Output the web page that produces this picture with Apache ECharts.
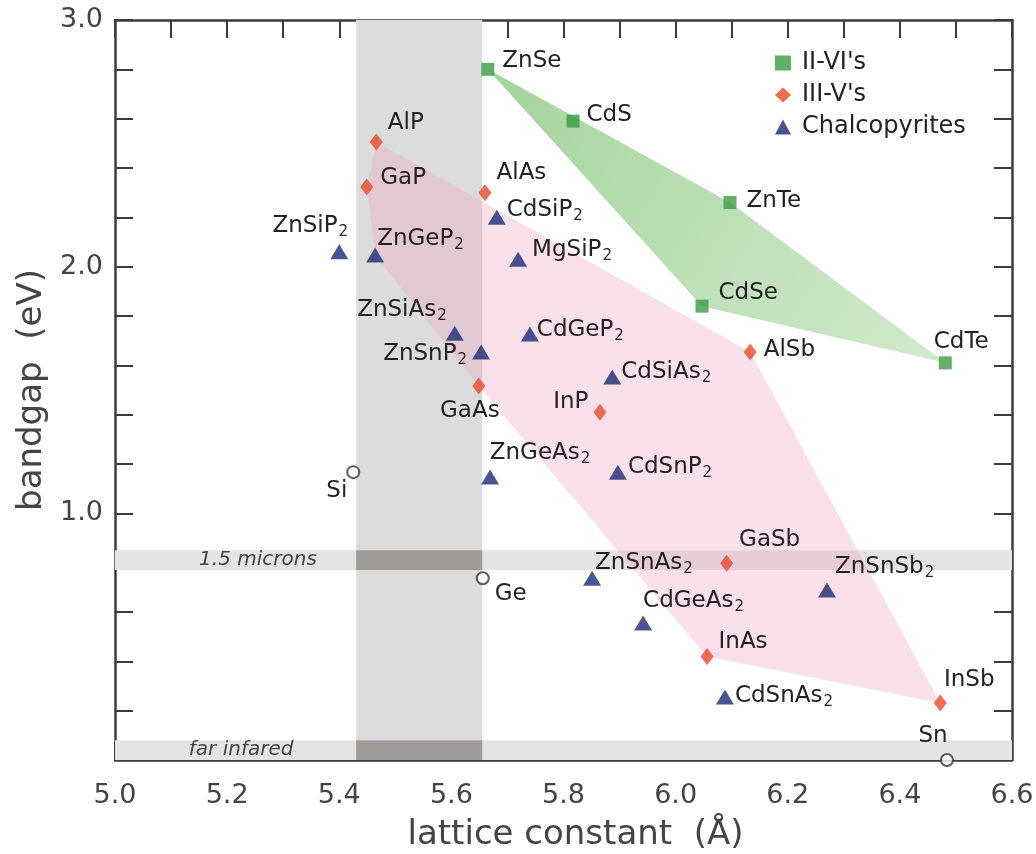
<!DOCTYPE html>
<html><head><meta charset="utf-8">
<script src="https://cdn.jsdelivr.net/npm/echarts@6/dist/echarts.min.js"></script>
<style>html,body{margin:0;padding:0;background:#fff}#c{width:1036px;height:854px}</style>
</head><body><div id="c"></div>
<script>
// ---------------- data ----------------
const iiviNames   = ['ZnSe','CdS','ZnTe','CdSe','CdTe'];
const iiviLattice = [5.665, 5.817, 6.097, 6.047, 6.481];
const iiviGap     = [2.80, 2.59, 2.26, 1.84, 1.61];

const iiivNames   = ['AlP','GaP','AlAs','GaAs','InP','AlSb','GaSb','InAs','InSb'];
const iiivLattice = [5.466, 5.449, 5.660, 5.649, 5.865, 6.133, 6.091, 6.056, 6.472];
const iiivGap     = [2.505, 2.323, 2.30, 1.516, 1.41, 1.654, 0.798, 0.42, 0.231];

const chalcoNames   = ['ZnSiP2','ZnGeP2','CdSiP2','MgSiP2','ZnSiAs2','CdGeP2','ZnSnP2','CdSiAs2','ZnGeAs2','CdSnP2','ZnSnAs2','CdGeAs2','ZnSnSb2','CdSnAs2'];
const chalcoLattice = [5.40, 5.464, 5.681, 5.719, 5.606, 5.740, 5.653, 5.887, 5.669, 5.897, 5.851, 5.942, 6.27, 6.088];
const chalcoGap     = [2.06, 2.047, 2.20, 2.03, 1.73, 1.727, 1.654, 1.553, 1.147, 1.167, 0.737, 0.555, 0.689, 0.255];

const elemNames   = ['Si','Ge','Sn'];
const elemLattice = [5.425, 5.656, 6.484];
const elemGap     = [1.167, 0.737, 0.0];

const seriesNames = ["II-VI's", "III-V's", 'Chalcopyrites'];
const xTickLabels = ['5.0','5.2','5.4','5.6','5.8','6.0','6.2','6.4','6.6'];
const yTickLabels = ['1.0','2.0','3.0'];
const xRange = [5.0, 6.6];
const yRange = [0, 3.0];

const visibleBand = [5.43, 5.655];   // lattice range (grey column)
const micronBand  = [0.77, 0.85];    // 1.5 microns band (eV)
const farIRBand   = [0.0, 0.08];     // far infrared band (eV)
const bandTexts   = ['1.5 microns', 'far infared'];
const bandTextX   = [5.255, 5.225];

const iiviRegion = ['ZnSe','ZnTe','CdTe','CdSe'];
const iiivRegion = ['AlP','AlSb','InSb','InAs','GaAs','ZnGeP2','GaP'];

// ---------------- styles ----------------
const FONT = 'DejaVu Sans';
const TXT = '#222';
const AX = '#3c3c3c';
const place = {
  ZnSe:['right',3,-8], CdS:['right',2,-6], ZnTe:['right',5,-2], CdSe:['right',5,-13], CdTe:['top',16,2],
  AlP:['right',0,-19], GaP:['right',2,-9], AlAs:['right',0,-20], GaAs:['bottom',-9,0], InP:['left',0,-10],
  AlSb:['right',2,-2], GaSb:['top',43,2], InAs:['right',0,-14], InSb:['top',29,2],
  ZnSiP2:['top',-29,0], ZnGeP2:['right',-12,-16], CdSiP2:['right',-4,-7], MgSiP2:['right',0,-9],
  ZnSiAs2:['left',6,-23], CdGeP2:['right',-7,-4], ZnSnP2:['left',0,2], CdSiAs2:['right',-5,-5],
  ZnGeAs2:['top',50,2], CdSnP2:['right',-4,-5], ZnSnAs2:['right',-11,-15], CdGeAs2:['right',-14,-22],
  ZnSnSb2:['right',-6,-23], CdSnAs2:['right',-4,-1],
  Si:['left',6,19], Ge:['right',0,16], Sn:['top',-14,0]
};

const lookup = {};
function reg(names, xs, ys){ names.forEach((n,i)=>{ lookup[n]=[xs[i],ys[i]]; }); }
reg(iiviNames, iiviLattice, iiviGap);
reg(iiivNames, iiivLattice, iiivGap);
reg(chalcoNames, chalcoLattice, chalcoGap);
reg(elemNames, elemLattice, elemGap);

function richName(n){
  const m = n.match(/^(.*?)(\d+)$/);
  return m ? '{n|'+m[1]+'}{s|'+m[2]+'}' : '{n|'+n+'}';
}
function pts(names, xs, ys){
  return names.map((n,i)=>{
    const p = place[n] || ['right',0,0];
    return {name:n, value:[xs[i], ys[i]], label:{position:p[0], offset:[p[1],p[2]]}};
  });
}
const labelBase = {
  show:true, distance:5, color:TXT, fontFamily:FONT, fontSize:23, opacity:1,
  formatter: p => richName(p.name),
  rich:{
    n:{fontSize:23, fontFamily:FONT, color:TXT},
    s:{fontSize:15, fontFamily:FONT, color:TXT, padding:[12,0,0,1]}
  }
};

// band rectangles
const bands = [], bandFill = [];
function addBand(x0,x1,y0,y1,fill){ bands.push([x0,x1,y0,y1]); bandFill.push(fill); }
addBand(visibleBand[0], visibleBand[1], yRange[0], yRange[1], '#dcdcdc');
addBand(xRange[0], xRange[1], micronBand[0], micronBand[1], '#e4e4e4');
addBand(xRange[0], xRange[1], farIRBand[0], farIRBand[1], '#e4e4e4');
addBand(visibleBand[0], visibleBand[1], micronBand[0], micronBand[1], '#9f9b97');
addBand(visibleBand[0], visibleBand[1], farIRBand[0], farIRBand[1], '#9f9b97');
const bandLabelData = [[bandTextX[0], (micronBand[0]+micronBand[1])/2], [bandTextX[1], (farIRBand[0]+farIRBand[1])/2]];

const regions = [iiivRegion, iiviRegion];
const regionFill = [
  'rgba(240,160,190,0.32)',
  new echarts.graphic.LinearGradient(0,0,1,1,[{offset:0,color:'rgba(140,200,130,0.80)'},{offset:1,color:'rgba(170,215,160,0.55)'}])
];

const chart = echarts.init(document.getElementById('c'));
const axisCommon = {
  type:'value', splitLine:{show:false},
  axisLine:{show:true, onZero:false, lineStyle:{color:AX, width:2.5}},
  axisTick:{show:true, inside:true, length:18, lineStyle:{color:AX, width:2}}
};
chart.setOption({
  animation:false,
  backgroundColor:'#fff',
  grid:{left:115, right:24, top:20, bottom:94, containLabel:false, outerBoundsMode:'none'},
  legend:{
    data: seriesNames, orient:'vertical', left:770, top:46,
    itemWidth:16, itemHeight:15, itemGap:8,
    textStyle:{fontSize:24, fontFamily:FONT, color:TXT, padding:[0,0,0,6]}
  },
  xAxis:[
    Object.assign({}, axisCommon, {
      position:'bottom', min:xRange[0], max:xRange[1], interval:0.1,
      axisLabel:{margin:22, fontSize:27, fontFamily:FONT, color:'#444',
        formatter: v => xTickLabels.includes(v.toFixed(1)) ? v.toFixed(1) : ''},
      name:'lattice constant  (Å)', nameLocation:'middle', nameGap:58,
      nameTextStyle:{fontSize:34, fontFamily:FONT, color:'#444', padding:[0,0,0,24]}
    }),
    Object.assign({}, axisCommon, {
      position:'top', min:xRange[0], max:xRange[1], interval:0.1, axisLabel:{show:false}
    })
  ],
  yAxis:[
    Object.assign({}, axisCommon, {
      position:'left', min:yRange[0], max:yRange[1], interval:0.2,
      axisLabel:{margin:12, fontSize:27, fontFamily:FONT, color:'#444',
        formatter: v => yTickLabels.includes(v.toFixed(1)) ? v.toFixed(1) : ''},
      name:'bandgap  (eV)', nameLocation:'middle', nameGap:56,
      nameTextStyle:{fontSize:34, fontFamily:FONT, color:'#444'}
    }),
    Object.assign({}, axisCommon, {
      position:'right', min:yRange[0], max:yRange[1], interval:0.2, axisLabel:{show:false}
    })
  ],
  series:[
    {
      type:'custom', name:'bands', z:1, silent:true,
      data: bands,
      renderItem:(params, api)=>{
        const a = api.coord([api.value(0), api.value(3)]);
        const b = api.coord([api.value(1), api.value(2)]);
        return {type:'rect', shape:{x:a[0], y:a[1], width:b[0]-a[0], height:b[1]-a[1]},
          style:{fill: bandFill[params.dataIndex]}};
      }
    },
    {
      type:'custom', name:'bandLabels', z:6, silent:true,
      data: bandLabelData,
      renderItem:(params, api)=>{
        const p = api.coord([api.value(0), api.value(1)]);
        return {type:'text', x:p[0], y:p[1], style:{text: bandTexts[params.dataIndex],
          fontSize:20, fontStyle:'italic', fontFamily:FONT, fill:'#444', align:'center', verticalAlign:'middle'}};
      }
    },
    {
      type:'custom', name:'regions', z:2, silent:true,
      data: regions.map((r,i)=>lookup[r[0]]),
      renderItem:(params, api)=>{
        const r = regions[params.dataIndex];
        const points = r.map(n => api.coord(lookup[n]));
        return {type:'polygon', shape:{points}, style:{fill: regionFill[params.dataIndex]}};
      }
    },
    {
      type:'scatter', name:seriesNames[0], z:5, clip:false, symbol:'rect', symbolSize:13,
      itemStyle:{color:'#3b9b45'}, label:labelBase,
      data: pts(iiviNames, iiviLattice, iiviGap)
    },
    {
      type:'scatter', name:seriesNames[1], z:5, clip:false, symbol:'diamond', symbolSize:[13,17],
      itemStyle:{color:'#ea4a2a'}, label:labelBase,
      data: pts(iiivNames, iiivLattice, iiivGap)
    },
    {
      type:'scatter', name:seriesNames[2], z:5, clip:false, symbol:'triangle', symbolSize:[18,15],
      itemStyle:{color:'#1b2a78'}, label:labelBase,
      data: pts(chalcoNames, chalcoLattice, chalcoGap)
    },
    {
      type:'scatter', name:'elements', z:5, clip:false, symbol:'circle', symbolSize:12,
      itemStyle:{color:'#fff', borderColor:'#333', borderWidth:2}, label:labelBase,
      data: pts(elemNames, elemLattice, elemGap)
    }
  ]
});
</script>
</body></html>
